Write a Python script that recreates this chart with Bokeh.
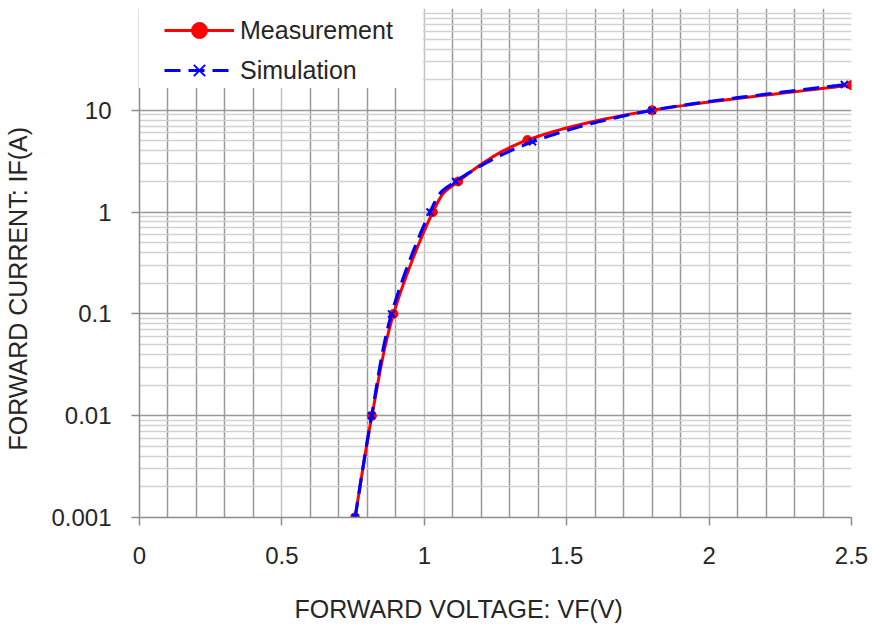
import numpy as np
from bokeh.plotting import figure
from bokeh.models import FixedTicker, Legend, LegendItem, Title
from bokeh.embed import file_html
from bokeh.resources import INLINE

# ---- data ----
meas_v = [0.757, 0.816, 0.892, 1.03, 1.119, 1.362, 1.80, 2.50]
meas_i = [0.001, 0.01, 0.1, 1.0, 2.0, 5.1, 10.0, 17.7]
sim_v = [0.757, 0.815, 0.885, 1.02, 1.11, 1.38, 1.80, 2.475]
sim_i = [0.001, 0.01, 0.1, 1.0, 2.0, 4.9, 10.0, 17.9]
series_names = ["Measurement", "Simulation"]

x_ticks = [0, 0.5, 1.0, 1.5, 2.0, 2.5]
x_tick_labels = ["0", "0.5", "1", "1.5", "2", "2.5"]
y_ticks = [0.001, 0.01, 0.1, 1, 10]
y_tick_labels = ["0.001", "0.01", "0.1", "1", "10"]
x_title = "FORWARD VOLTAGE: VF(V)"
y_title = "FORWARD CURRENT:  IF(A)"

X_MIN, X_MAX = 0.0, 2.5
Y_MIN, Y_MAX = 0.001, 100.0

FONT = "Liberation Sans"
TXT = "#262626"

W, H = 868, 628
BL, BR, BT, BB = 137, 17, 8, 111
FW, FH = W - BL - BR, H - BT - BB


def smooth(xs, ys, n=30):
    """Excel-like smoothed line (Catmull-Rom Bezier) in plotted pixel space."""
    sx = FW / (X_MAX - X_MIN)
    sy = FH / (np.log10(Y_MAX) - np.log10(Y_MIN))
    P = np.column_stack([np.asarray(xs) * sx, np.log10(np.asarray(ys)) * sy])
    out = [P[0]]
    m = len(P)
    for i in range(m - 1):
        p0 = P[i - 1] if i > 0 else P[i]
        p1, p2 = P[i], P[i + 1]
        p3 = P[i + 2] if i + 2 < m else P[i + 1]
        c1 = p1 + (p2 - p0) / 6.0
        c2 = p2 - (p3 - p1) / 6.0
        t = np.linspace(0, 1, n)[1:, None]
        seg = ((1 - t) ** 3) * p1 + 3 * ((1 - t) ** 2) * t * c1 + 3 * (1 - t) * t ** 2 * c2 + t ** 3 * p2
        out.extend(seg)
    out = np.array(out)
    return out[:, 0] / sx, 10 ** (out[:, 1] / sy)


p = figure(width=W, height=H, x_range=(X_MIN, X_MAX), y_range=(Y_MIN, Y_MAX),
           y_axis_type="log", output_backend="svg", toolbar_location=None,
           min_border_left=BL, min_border_right=BR, min_border_top=BT,
           min_border_bottom=BB, background_fill_color="white",
           border_fill_color="white", outline_line_color=None)

# grids
p.xgrid.ticker = FixedTicker(ticks=[0.5, 1.0, 1.5, 2.0, 2.5],
                             minor_ticks=[k / 10 for k in range(1, 25) if k % 5])
p.xgrid.grid_line_color = "#c2c2c2"
p.xgrid.grid_line_width = 1.5
p.xgrid.minor_grid_line_color = "#999999"
p.xgrid.minor_grid_line_width = 1.5

p.ygrid.ticker = FixedTicker(ticks=[0.001, 0.01, 0.1, 1, 10, 100],
                             minor_ticks=[m * 10.0 ** e for e in range(-3, 2) for m in range(2, 10)])
p.ygrid.grid_line_color = "#999999"
p.ygrid.grid_line_width = 1.5
p.ygrid.minor_grid_line_color = "#d2d2d2"
p.ygrid.minor_grid_line_width = 1.5

# axes
for ax in (p.xaxis[0], p.yaxis[0]):
    ax.axis_line_color = "#8c8c8c"
    ax.axis_line_width = 1.5
    ax.major_tick_line_color = "#8c8c8c"
    ax.major_tick_line_width = 1.5
    ax.major_tick_in = 0
    ax.major_tick_out = 8
    ax.minor_tick_line_color = None
    ax.major_label_text_font = FONT
    ax.major_label_text_font_size = "24px"
    ax.major_label_text_color = TXT
    # blank axis label used only as spacing before the titles
    ax.axis_label = " "
    ax.axis_label_text_font_size = "2px"

p.xaxis.major_label_standoff = 21
p.yaxis.major_label_standoff = 20
p.xaxis.axis_label_standoff = 20
p.yaxis.axis_label_standoff = 11
p.xaxis.ticker = FixedTicker(ticks=x_ticks)
p.xaxis.major_label_overrides = dict(zip(x_ticks, x_tick_labels))
p.yaxis.ticker = FixedTicker(ticks=y_ticks)
p.yaxis.major_label_overrides = dict(zip(y_ticks, y_tick_labels))

# axis titles
p.add_layout(Title(text=x_title, align="left", offset=155, text_font=FONT,
                   text_font_size="25px", text_font_style="normal",
                   text_color=TXT, standoff=2), "below")
p.add_layout(Title(text=y_title, align="left", offset=67, text_font=FONT,
                   text_font_size="25px", text_font_style="normal",
                   text_color=TXT, standoff=2), "left")

# series
mx, my = smooth(meas_v, meas_i)
m_line = p.line(mx, my, line_color="#ff0000", line_width=3)
m_pts = p.scatter(meas_v, meas_i, marker="circle", size=9,
                  fill_color="#ff0000", line_color="#ff0000")
sx_, sy_ = smooth(sim_v, sim_i)
s_line = p.line(sx_, sy_, line_color="#0000ff", line_width=3.2, line_dash="16 8")
s_pts = p.scatter(sim_v, sim_i, marker="x", size=10, line_color="#0000ff",
                  line_width=2)

# legend: white backing box + transparent legend with items
blank = p.line(x=[], y=[], line_alpha=0)
leg_bg = Legend(items=[LegendItem(label=" ", renderers=[blank])],
                location="top_left", margin=0, padding=0, spacing=0,
                glyph_width=20, glyph_height=80, label_height=80,
                label_width=264, label_standoff=0,
                background_fill_color="white", background_fill_alpha=1.0,
                border_line_color=None)
p.add_layout(leg_bg, "center")

leg = Legend(items=[LegendItem(label=series_names[0], renderers=[m_line, m_pts]),
                    LegendItem(label=series_names[1], renderers=[s_line, s_pts])],
             location=(25, 427), margin=0, padding=0, spacing=0,
             glyph_width=70, glyph_height=40, label_height=40, label_standoff=6,
             background_fill_alpha=0, border_line_color=None,
             label_text_font=FONT, label_text_font_size="25px",
             label_text_color=TXT)
p.add_layout(leg, "center")

open("out.html", "w").write(file_html(p, INLINE))
